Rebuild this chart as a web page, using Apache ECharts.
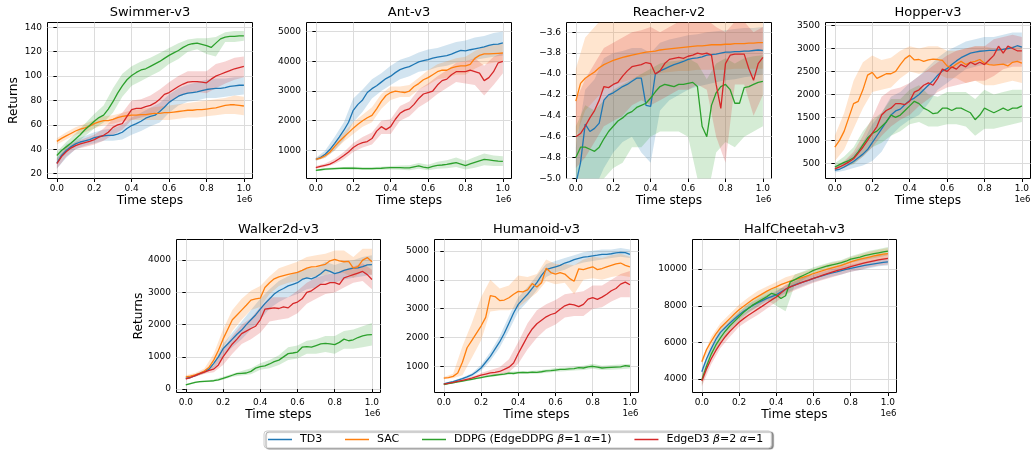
<!DOCTYPE html>
<html><head><meta charset="utf-8">
<script src="https://cdn.jsdelivr.net/npm/echarts@6/dist/echarts.min.js"></script>
<style>html,body{margin:0;padding:0;background:#fff}#c{width:1031px;height:450px}</style>
</head><body><div id="c"></div>
<script>
// ---------- sampling grids (time steps, x1e6) ----------
const T41 = [0,0.025,0.05,0.075,0.1,0.125,0.15,0.175,0.2,0.225,0.25,0.275,0.3,0.325,0.35,0.375,0.4,0.425,0.45,0.475,0.5,0.525,0.55,0.575,0.6,0.625,0.65,0.675,0.7,0.725,0.75,0.775,0.8,0.825,0.85,0.875,0.9,0.925,0.95,0.975,1.0];
const T21 = [0,0.05,0.1,0.15,0.2,0.25,0.3,0.35,0.4,0.45,0.5,0.55,0.6,0.65,0.7,0.75,0.8,0.85,0.9,0.95,1.0];
const xTicks = [0,0.2,0.4,0.6,0.8,1.0];
const algos = ['TD3','SAC','DDPG (EdgeDDPG β=1 α=1)','EdgeD3 β=2 α=1'];
const colors = ['#1f77b4','#ff7f0e','#2ca02c','#d62728'];
const bandColors = ['rgba(31,119,180,0.2)','rgba(255,127,14,0.2)','rgba(44,160,44,0.2)','rgba(214,39,40,0.2)'];
const titles = ['Swimmer-v3','Ant-v3','Reacher-v2','Hopper-v3','Walker2d-v3','Humanoid-v3','HalfCheetah-v3'];

// ---------- Swimmer ----------
const swTicks = [20,40,60,80,100,120,140];
const sw_td3 = [28.7,35,39,42,44.5,46,47,48,49.5,50.5,51,51.5,51.5,52.5,54,57,59.5,61,63,65.5,67,68,71,74.5,78.5,81,83.5,85,86,86.5,87,88,89,89.5,90,90,90.5,91.5,92,92.5,92.5];
const sw_sac = [46.5,49,51,53,55,56.5,57.5,59,61,62.5,63.5,63.5,64.5,66,67,67.5,68,68,68.5,68.5,69,69.5,69.5,70,70,70.5,71,71.5,72,72,72.5,72.5,73,73.5,74,75,76,76.5,76.5,76,75.5];
const sw_ddpg = [35,39,42,45,48.5,52,56,59.5,63,66,68,73,79,86,92,97,100.5,103,105,106,108,110,112,114.5,117,119,121,123.5,125.5,126.5,127,126,125,123.5,127,130.5,132,132.5,132.5,133,133];
const sw_edge = [28.2,34,38,41,43,44.5,45.5,46.5,48,50,51.5,54,58,60,61,67,72.5,73.5,73.5,75,76,78,81,85,86.5,89,91.5,93.5,95,95.5,95.5,95,94.5,97.5,100,101.5,103,104.5,106,107,108];
const sw_td3_lo = [24,33,40,43,45,47,47,48,52,55,59,62,70,76,79,80,82,82,83,84,85];
const sw_td3_hi = [33,44,48,51,54,56,57,60,66,70,74,78,85,90,93,95,97,98,98,99,99];
const sw_sac_lo = [44,48,52,54,57,60,61,63,64,64,64,64,64,65,66,66,67,68,69,69,68];
const sw_sac_hi = [49,54,58,61,64,67,68,70,72,73,74,75,76,77,78,79,80,81,82,84,83];
const sw_ddpg_lo = [31,38,44,51,57,62,70,83,92,96,100,104,110,114,120,122,118,116,128,128,129];
const sw_ddpg_hi = [38,46,53,61,69,76,90,102,108,112,115,119,123,127,130,131,131,132,136,137,137];
const sw_edge_lo = [24,34,40,42,44,47,52,56,64,66,68,72,78,83,86,87,86,90,94,97,99];
const sw_edge_hi = [32,42,46,49,52,57,65,70,80,81,84,89,95,100,104,104,104,110,112,115,116];

// ---------- Ant ----------
const antTicks = [1000,2000,3000,4000,5000];
const ant_td3 = [700,760,870,1030,1230,1450,1680,1950,2350,2550,2700,2950,3080,3180,3300,3420,3500,3620,3720,3780,3820,3900,3980,4020,4060,4110,4140,4170,4190,4240,4310,4370,4350,4390,4420,4450,4490,4540,4570,4580,4620];
const ant_sac = [700,740,820,940,1130,1300,1450,1600,1750,1880,2000,2100,2180,2400,2650,2850,2950,3000,2970,2950,3000,3150,3250,3380,3450,3550,3650,3700,3700,3780,3820,3850,3850,3900,4100,4200,4250,4250,4260,4270,4280];
const ant_ddpg = [330,350,370,380,390,395,400,400,400,395,390,385,390,395,400,410,420,420,420,415,410,450,480,440,410,460,500,510,530,560,590,540,490,550,600,650,700,680,660,640,630];
const ant_edge = [420,460,500,540,620,720,830,950,1100,1200,1260,1300,1400,1650,1800,1700,1800,2050,2250,2350,2400,2550,2750,2900,2950,3000,3200,3350,3400,3550,3650,3650,3650,3700,3650,3600,3350,3450,3650,3950,4000];
const ant_td3_lo = [650,750,1000,1350,1950,2300,2750,3000,3200,3400,3500,3650,3700,3800,3850,3950,4000,4050,4100,4150,4200];
const ant_td3_hi = [750,1000,1450,1950,2750,3050,3400,3600,3850,4050,4150,4300,4400,4450,4550,4650,4700,4800,4850,4950,5000];
const ant_sac_lo = [650,750,1000,1300,1550,1800,1950,2400,2700,2800,2800,3050,3200,3400,3450,3550,3550,3750,3900,3950,4000];
const ant_sac_hi = [750,900,1250,1600,1950,2200,2450,2900,3150,3150,3200,3450,3700,3900,4000,4100,4150,4350,4500,4550,4600];
const ant_ddpg_lo = [300,330,350,360,350,340,340,350,360,350,330,380,330,380,400,440,360,420,500,480,480];
const ant_ddpg_hi = [360,410,430,440,450,440,440,450,480,490,500,580,520,620,670,760,650,780,900,830,800];
const ant_edge_lo = [380,440,540,700,950,1100,1200,1550,1550,2000,2150,2450,2650,2900,3100,3300,3250,3200,2850,3200,3600];
const ant_edge_hi = [480,560,720,950,1250,1450,1600,2000,2050,2500,2650,3050,3250,3500,3700,3950,4000,4100,3850,4150,4300];

// ---------- Reacher ----------
const reTicks = [-5.0,-4.8,-4.6,-4.4,-4.2,-4.0,-3.8,-3.6];
const re_td3 = [-5.05,-4.85,-4.48,-4.55,-4.52,-4.47,-4.25,-4.2,-4.18,-4.15,-4.12,-4.1,-4.07,-4.04,-4.04,-4.3,-4.31,-4.0,-3.97,-3.95,-3.93,-3.91,-3.895,-3.88,-3.86,-3.85,-3.845,-3.835,-3.82,-3.815,-3.81,-3.80,-3.79,-3.79,-3.785,-3.785,-3.78,-3.78,-3.775,-3.77,-3.775];
const re_sac = [-4.26,-4.09,-4.04,-4.01,-3.98,-3.94,-3.91,-3.89,-3.87,-3.855,-3.84,-3.83,-3.82,-3.81,-3.80,-3.79,-3.785,-3.78,-3.77,-3.765,-3.76,-3.755,-3.75,-3.745,-3.74,-3.735,-3.73,-3.73,-3.725,-3.72,-3.72,-3.72,-3.715,-3.715,-3.71,-3.71,-3.71,-3.705,-3.705,-3.70,-3.70];
const re_ddpg = [-4.8,-4.7,-4.7,-4.72,-4.74,-4.7,-4.62,-4.55,-4.5,-4.45,-4.42,-4.38,-4.36,-4.32,-4.3,-4.28,-4.23,-4.17,-4.12,-4.1,-4.11,-4.12,-4.1,-4.1,-4.09,-4.08,-4.12,-4.5,-4.6,-4.3,-4.18,-4.12,-4.1,-4.15,-4.28,-4.28,-4.13,-4.12,-4.1,-4.08,-4.07];
const re_edge = [-4.6,-4.57,-4.5,-4.42,-4.35,-4.25,-4.12,-4.13,-4.1,-4.08,-4.02,-3.97,-3.93,-3.92,-3.91,-3.89,-3.9,-4.0,-3.97,-3.9,-3.86,-3.85,-3.84,-3.85,-3.83,-3.82,-3.8,-3.81,-3.8,-3.82,-4.1,-4.33,-3.9,-3.82,-3.81,-3.81,-3.81,-3.95,-4.06,-3.9,-3.84];
const re_td3_lo = [-5.3,-5.2,-5.1,-4.9,-4.75,-4.65,-4.6,-4.75,-4.85,-4.35,-4.25,-4.2,-4.15,-4.12,-4.1,-4.08,-4.06,-4.05,-4.03,-4.02,-4.0];
const re_td3_hi = [-4.7,-4.15,-4.05,-3.85,-3.8,-3.78,-3.75,-3.75,-3.8,-3.7,-3.67,-3.65,-3.63,-3.62,-3.6,-3.59,-3.58,-3.57,-3.56,-3.56,-3.55];
const re_sac_lo = [-4.6,-4.35,-4.25,-4.15,-4.1,-4.08,-4.05,-4.03,-4.0,-3.99,-3.98,-3.97,-3.97,-3.96,-3.96,-3.96,-3.96,-3.95,-3.95,-3.95,-3.95];
const re_sac_hi = [-3.95,-3.65,-3.55,-3.45,-3.45,-3.45,-3.45,-3.45,-3.45,-3.45,-3.45,-3.45,-3.45,-3.45,-3.45,-3.45,-3.45,-3.45,-3.45,-3.45,-3.45];
const re_ddpg_lo = [-5.1,-5.1,-5.1,-5.0,-4.9,-4.85,-4.7,-4.7,-4.6,-4.55,-4.55,-4.55,-4.6,-5.0,-5.2,-4.75,-4.65,-4.7,-4.6,-4.55,-4.5];
const re_ddpg_hi = [-4.5,-4.3,-4.35,-4.25,-4.15,-4.1,-4.05,-4.0,-3.95,-3.9,-3.88,-3.87,-3.85,-3.9,-4.05,-3.9,-3.85,-3.9,-3.85,-3.83,-3.82];
const re_edge_lo = [-4.9,-4.8,-4.65,-4.5,-4.45,-4.4,-4.3,-4.25,-4.3,-4.25,-4.2,-4.15,-4.15,-4.1,-4.15,-4.6,-4.85,-4.1,-4.1,-4.4,-4.2];
const re_edge_hi = [-4.25,-4.05,-3.9,-3.75,-3.7,-3.65,-3.6,-3.58,-3.55,-3.6,-3.55,-3.5,-3.5,-3.48,-3.48,-3.55,-3.6,-3.5,-3.5,-3.6,-3.55];

// ---------- Hopper ----------
const hoTicks = [500,1000,1500,2000,2500,3000,3500];
const ho_td3 = [350,370,420,480,540,620,700,800,950,1100,1250,1400,1550,1640,1680,1780,1870,1920,2000,2100,2200,2300,2420,2510,2560,2650,2730,2800,2850,2900,2920,2940,2950,2960,2960,2970,2980,3000,3020,3060,3030];
const ho_sac = [850,1000,1200,1500,1800,1850,2100,2420,2480,2350,2400,2450,2450,2500,2650,2780,2850,2750,2760,2720,2750,2770,2760,2740,2620,2580,2660,2720,2650,2700,2720,2760,2680,2650,2640,2650,2660,2620,2700,2720,2680];
const ho_ddpg = [420,470,520,560,620,750,900,1050,1150,1200,1300,1400,1550,1500,1550,1650,1750,1850,1800,1700,1650,1580,1600,1700,1700,1650,1700,1700,1650,1600,1450,1550,1700,1650,1600,1650,1700,1650,1700,1700,1750];
const ho_edge = [380,420,470,530,600,720,850,1000,1150,1300,1550,1650,1700,1800,1800,1780,1850,2050,2100,2200,2250,2200,2350,2550,2500,2600,2550,2650,2600,2700,2650,2700,2650,2750,2850,3050,2900,3050,3000,2950,2950];
const ho_td3_lo = [300,340,400,450,550,750,1100,1300,1450,1550,1800,2100,2250,2400,2550,2600,2650,2650,2650,2700,2750];
const ho_td3_hi = [420,520,700,950,1350,1600,1950,2050,2250,2400,2600,2800,2950,3050,3150,3200,3250,3250,3300,3350,3350];
const ho_sac_lo = [550,800,1250,1700,2050,2100,2150,2350,2500,2450,2500,2450,2350,2350,2250,2300,2200,2200,2250,2300,2250];
const ho_sac_hi = [1100,1600,2300,2700,2850,2750,2800,2950,3050,3000,3050,3050,2950,2950,3000,3050,3050,3000,3000,3050,3050];
const ho_ddpg_lo = [350,420,480,650,850,950,1100,1200,1350,1400,1300,1300,1350,1350,1300,1100,1250,1250,1300,1350,1400];
const ho_ddpg_hi = [500,650,850,1200,1450,1600,1900,1900,2100,2200,2000,1950,2050,2050,2050,1900,2100,2000,2050,2100,2100];
const ho_edge_lo = [330,400,500,650,850,1100,1300,1450,1550,1750,1900,2050,2150,2200,2250,2300,2300,2400,2550,2600,2600];
const ho_edge_hi = [430,550,750,1100,1500,1950,2100,2150,2250,2400,2550,2700,2850,2950,3000,3050,3050,3200,3250,3300,3250];

// ---------- Walker2d ----------
const waTicks = [0,1000,2000,3000,4000];
const wa_td3 = [330,360,420,480,540,620,800,1000,1250,1400,1550,1700,1830,2000,2150,2300,2480,2650,2800,2950,3050,3120,3200,3250,3300,3400,3450,3420,3480,3580,3700,3650,3580,3620,3680,3720,3750,3760,3800,3850,3860];
const wa_sac = [380,400,440,490,560,680,900,1200,1550,1850,2150,2300,2450,2600,2760,2800,2820,3150,3300,3420,3480,3520,3560,3590,3620,3680,3750,3790,3800,3840,3870,3980,4020,3980,3950,3960,3750,3800,4000,4080,3950];
const wa_ddpg = [130,170,210,230,240,250,260,290,330,380,430,480,490,500,550,650,700,720,780,850,900,1000,1100,1120,1150,1300,1320,1300,1350,1400,1420,1400,1380,1450,1550,1500,1530,1600,1650,1680,1690];
const wa_edge = [320,360,420,480,530,580,620,750,1000,1200,1400,1550,1720,1800,1880,1950,2150,2480,2500,2520,2500,2550,2520,2650,2700,2800,3000,3050,3150,3250,3250,3300,3300,3250,3450,3500,3550,3600,3650,3550,3400];
const wa_td3_lo = [300,380,490,620,1000,1300,1550,1850,2150,2500,2700,2850,2950,3100,3150,3350,3300,3400,3450,3500,3550];
const wa_td3_hi = [360,460,590,800,1400,1750,2100,2450,2800,3100,3350,3500,3650,3750,3750,3950,3850,3950,4000,4100,4150];
const wa_sac_lo = [330,380,480,700,1250,1800,2150,2450,2550,2950,3200,3300,3350,3450,3500,3550,3650,3600,3450,3650,3550];
const wa_sac_hi = [430,500,640,1100,1850,2450,2800,3050,3200,3500,3750,3850,3950,4100,4150,4200,4300,4300,4100,4350,4350];
const wa_ddpg_lo = [110,180,210,230,290,380,420,460,600,650,750,900,950,1100,1100,1150,1100,1250,1250,1300,1350];
const wa_ddpg_hi = [160,240,270,300,380,480,560,650,800,900,1050,1300,1350,1500,1550,1650,1650,1800,1850,1950,2050];
const wa_edge_lo = [280,380,480,520,750,1100,1400,1550,1750,2100,2150,2200,2350,2650,2800,2950,3000,3150,3300,3350,3100];
const wa_edge_hi = [360,460,580,720,1250,1650,2000,2200,2550,2850,2850,2850,3050,3300,3450,3550,3600,3700,3800,3900,3700];

// ---------- Humanoid ----------
const huTicks = [1000,2000,3000,4000,5000];
const hu_td3 = [400,440,480,530,580,640,710,820,950,1150,1350,1600,1850,2150,2500,2850,3150,3330,3500,3700,3900,4150,4350,4400,4450,4500,4580,4630,4700,4740,4780,4800,4830,4850,4880,4880,4900,4930,4950,4940,4880];
const hu_sac = [600,620,660,780,1150,1650,1900,2150,2400,2700,3450,3420,3280,3300,3380,3500,3600,3580,3650,3870,3750,3900,4400,4250,4200,4250,4200,4050,3950,4380,4350,4400,4450,4350,4390,4450,4500,4550,4580,4500,4450];
const hu_ddpg = [380,410,440,470,500,530,560,590,620,650,680,700,720,740,770,760,790,800,790,810,800,820,850,860,880,900,900,920,930,960,950,990,1010,980,950,960,970,980,990,1030,1010];
const hu_edge = [390,420,450,490,520,560,600,650,700,740,780,800,830,900,980,1120,1450,1750,2050,2300,2480,2600,2720,2800,2850,2980,3100,3160,3130,3070,3150,3330,3380,3320,3400,3500,3620,3700,3850,3920,3830];
const hu_td3_lo = [380,450,540,650,850,1200,1650,2250,2900,3250,3650,4100,4250,4350,4500,4600,4650,4700,4750,4800,4750];
const hu_td3_hi = [420,510,620,770,1050,1500,2050,2750,3400,3750,4150,4550,4650,4750,4850,4950,5000,5050,5050,5100,5050];
const hu_sac_lo = [580,600,700,1300,1900,2900,2950,2950,3050,3300,3550,3950,3850,3900,3500,4000,4050,4000,4100,4150,4100];
const hu_sac_hi = [640,750,1700,2500,3400,4000,3700,3800,4150,4100,4200,4700,4550,4550,4500,4700,4800,4750,4850,4900,4800];
const hu_ddpg_lo = [360,420,470,530,590,640,680,720,740,740,750,790,820,840,860,880,920,880,890,910,930];
const hu_ddpg_hi = [400,460,530,580,650,720,760,820,840,850,860,900,950,970,1000,1030,1100,1030,1050,1070,1090];
const hu_edge_lo = [370,430,490,560,640,700,720,800,1100,1600,2000,2300,2450,2700,2750,2750,3000,3050,3250,3400,3400];
const hu_edge_hi = [410,480,560,650,780,880,980,1250,1850,2500,2950,3150,3300,3500,3550,3600,3800,3800,4000,4200,4300];

// ---------- HalfCheetah ----------
const hcTicks = [4000,6000,8000,10000];
const hc_td3 = [4400,5100,5650,6150,6550,6800,7050,7280,7500,7700,7870,8020,8150,8280,8400,8500,8600,8750,8900,9030,9140,9230,9320,9400,9490,9570,9650,9720,9790,9850,9920,9980,10040,10100,10150,10200,10250,10290,10330,10370,10400];
const hc_sac = [4950,5600,6050,6450,6800,7050,7300,7550,7780,7980,8170,8350,8500,8650,8800,8930,9030,9150,9250,9340,9420,9500,9580,9660,9760,9840,9920,10000,10070,10140,10210,10300,10400,10470,10540,10600,10660,10720,10770,10820,10850];
const hc_ddpg = [3950,4700,5350,5850,6250,6600,6900,7150,7400,7650,7850,8050,8200,8350,8500,8680,8600,8400,8550,9300,9430,9560,9680,9800,9930,10020,10100,10170,10230,10290,10350,10430,10540,10600,10660,10730,10790,10840,10890,10940,10980];
const hc_edge = [3900,4550,5100,5550,5950,6300,6600,6850,7100,7300,7480,7650,7820,7980,8150,8320,8480,8700,8900,9030,9120,9220,9320,9400,9490,9580,9670,9760,9840,9920,9990,10060,10130,10200,10270,10340,10400,10450,10500,10550,10580];
const hc_td3_lo = [4200,5450,6300,6850,7300,7650,7950,8200,8400,8700,8900,9100,9300,9450,9600,9700,9850,9950,10050,10150,10200];
const hc_td3_hi = [4600,5850,6800,7250,7700,8100,8350,8600,8800,9100,9350,9550,9700,9850,10000,10150,10250,10350,10450,10550,10600];
const hc_sac_lo = [4800,5800,6550,7050,7500,7900,8200,8550,8750,8950,9150,9300,9500,9650,9800,9950,10100,10250,10350,10450,10550];
const hc_sac_hi = [5100,6300,7050,7550,8050,8450,8800,9050,9300,9550,9700,9850,10000,10200,10350,10450,10650,10800,10950,11050,11150];
const hc_ddpg_lo = [3700,5100,6000,6650,7150,7600,7950,8300,8000,7700,9150,9450,9750,9950,10050,10200,10350,10450,10550,10650,10750];
const hc_ddpg_hi = [4200,5600,6500,7150,7650,8100,8450,8800,9000,8950,9700,9900,10100,10250,10400,10500,10700,10850,11000,11100,11200];
const hc_edge_lo = [3600,4800,5700,6300,6850,7200,7500,7850,8200,8600,8850,9050,9250,9400,9550,9700,9850,9950,10100,10200,10250];
const hc_edge_hi = [4200,5400,6200,6850,7350,7750,8100,8450,8750,9150,9350,9550,9700,9900,10100,10250,10400,10550,10650,10750,10850];

// ---------- assemble ----------
const envs = [
  {ticks:swTicks, ymin:16.1, ymax:143.9, mean:[sw_td3,sw_sac,sw_ddpg,sw_edge], lo:[sw_td3_lo,sw_sac_lo,sw_ddpg_lo,sw_edge_lo], hi:[sw_td3_hi,sw_sac_hi,sw_ddpg_hi,sw_edge_hi], ylabel:true, ygap:34},
  {ticks:antTicks, ymin:55, ymax:5307, mean:[ant_td3,ant_sac,ant_ddpg,ant_edge], lo:[ant_td3_lo,ant_sac_lo,ant_ddpg_lo,ant_edge_lo], hi:[ant_td3_hi,ant_sac_hi,ant_ddpg_hi,ant_edge_hi]},
  {ticks:reTicks, ymin:-5.0, ymax:-3.507, mean:[re_td3,re_sac,re_ddpg,re_edge], lo:[re_td3_lo,re_sac_lo,re_ddpg_lo,re_edge_lo], hi:[re_td3_hi,re_sac_hi,re_ddpg_hi,re_edge_hi], dec:1},
  {ticks:hoTicks, ymin:169, ymax:3566, mean:[ho_td3,ho_sac,ho_ddpg,ho_edge], lo:[ho_td3_lo,ho_sac_lo,ho_ddpg_lo,ho_edge_lo], hi:[ho_td3_hi,ho_sac_hi,ho_ddpg_hi,ho_edge_hi]},
  {ticks:waTicks, ymin:-105, ymax:4640, mean:[wa_td3,wa_sac,wa_ddpg,wa_edge], lo:[wa_td3_lo,wa_sac_lo,wa_ddpg_lo,wa_edge_lo], hi:[wa_td3_hi,wa_sac_hi,wa_ddpg_hi,wa_edge_hi], ylabel:true, ygap:38},
  {ticks:huTicks, ymin:103, ymax:5393, mean:[hu_td3,hu_sac,hu_ddpg,hu_edge], lo:[hu_td3_lo,hu_sac_lo,hu_ddpg_lo,hu_edge_lo], hi:[hu_td3_hi,hu_sac_hi,hu_ddpg_hi,hu_edge_hi]},
  {ticks:hcTicks, ymin:3271, ymax:11615, mean:[hc_td3,hc_sac,hc_ddpg,hc_edge], lo:[hc_td3_lo,hc_sac_lo,hc_ddpg_lo,hc_edge_lo], hi:[hc_td3_hi,hc_sac_hi,hc_ddpg_hi,hc_edge_hi]}
];

const boxes = [
  {left:47.5, top:22.5, width:205, height:156},
  {left:306.5, top:22.5, width:205, height:156},
  {left:566.5, top:22.5, width:205, height:156},
  {left:825.5, top:22.5, width:205, height:156},
  {left:176.5, top:239.5, width:204, height:153},
  {left:434.5, top:239.5, width:204, height:153},
  {left:692.5, top:239.5, width:204, height:153}
];

const FONT = 'DejaVu Sans';
const grid = [], xAxis = [], yAxis = [], series = [], graphic = [];

function bandRenderer(fill) {
  return function (params, api) {
    if (params.dataIndexInside !== 0) return null;
    const n = params.dataInsideLength;
    const up = [], dn = [];
    for (let i = 0; i < n; i++) {
      const x = api.value(0, i);
      up.push(api.coord([x, api.value(2, i)]));
      dn.push(api.coord([x, api.value(1, i)]));
    }
    return {type:'polygon', silent:true, shape:{points: up.concat(dn.reverse())}, style:{fill: fill, stroke:null}};
  };
}

envs.forEach((env, g) => {
  const b = boxes[g];
  grid.push({left:b.left, top:b.top, width:b.width, height:b.height, show:true, borderColor:'#000', borderWidth:1,
             backgroundColor:'transparent', containLabel:false, outerBoundsMode:'none'});
  xAxis.push({
    type:'value', gridIndex:g, min:-0.05, max:1.046,
    name:'Time steps', nameLocation:'middle', nameGap:22.5, nameMoveOverlap:false,
    nameTextStyle:{fontFamily:FONT, fontSize:12.2, color:'#000', verticalAlign:'middle'},
    axisLine:{show:false},
    axisTick:{show:true, inside:false, length:3.5, customValues:xTicks, lineStyle:{color:'#000', width:1}},
    axisLabel:{show:true, customValues:xTicks, margin:5.5, fontFamily:FONT, fontSize:9, color:'#000', formatter:v => v.toFixed(1)},
    splitLine:{show:true, lineStyle:{color:'#dcdcdc', width:1}}
  });
  yAxis.push({
    type:'value', gridIndex:g, min:env.ymin, max:env.ymax,
    name: env.ylabel ? 'Returns' : '', nameLocation:'middle', nameGap: env.ygap || 30, nameRotate:90, nameMoveOverlap:false,
    nameTextStyle:{fontFamily:FONT, fontSize:12.2, color:'#000', verticalAlign:'middle'},
    axisLine:{show:false},
    axisTick:{show:true, inside:false, length:3.5, customValues:env.ticks, lineStyle:{color:'#000', width:1}},
    axisLabel:{show:true, customValues:env.ticks, margin:5.5, fontFamily:FONT, fontSize:9, color:'#000',
      formatter: v => env.dec ? (v < 0 ? '\u2212' : '') + Math.abs(v).toFixed(env.dec) : String(Math.round(v))},
    splitLine:{show:true, lineStyle:{color:'#dcdcdc', width:1}}
  });
  for (let a = 0; a < 4; a++) {
    const lo = env.lo[a], hi = env.hi[a];
    series.push({
      type:'custom', name: algos[a] + ' band', xAxisIndex:g, yAxisIndex:g,
      data: T21.map((t, i) => [t, lo[i], hi[i]]),
      dimensions:['x','lo','hi'], encode:{x:0, y:[1,2]},
      renderItem: bandRenderer(bandColors[a]), clip:true, silent:true, z:1
    });
  }
  for (let a = 0; a < 4; a++) {
    const m = env.mean[a];
    series.push({
      type:'line', name: algos[a], xAxisIndex:g, yAxisIndex:g,
      data: T41.map((t, i) => [t, m[i]]),
      symbol:'none', showSymbol:false, clip:true, silent:true, z:3,
      color: colors[a], itemStyle:{color: colors[a]},
      lineStyle:{width:1.3, color: colors[a]}, emphasis:{disabled:true}
    });
  }
  graphic.push({type:'text', silent:true, x: b.left + b.width / 2, y: b.top - 10,
    style:{text: titles[g], font:'13px "DejaVu Sans"', fill:'#000', align:'center', verticalAlign:'middle', textAlign:'center', textVerticalAlign:'middle'}});
  graphic.push({type:'text', silent:true, x: b.left + b.width, y: b.top + b.height + 21,
    style:{text:'1e6', font:'8.5px "DejaVu Sans"', fill:'#000', align:'right', verticalAlign:'middle', textAlign:'right', textVerticalAlign:'middle'}});
});

const chart = echarts.init(document.getElementById('c'), null, {renderer:'canvas'});
chart.setOption({
  animation:false,
  backgroundColor:'#fff',
  textStyle:{fontFamily:FONT},
  grid, xAxis, yAxis, series, graphic,
  legend:{
    show:true, left:264, top:431, orient:'horizontal', data: algos, selectedMode:false,
    icon:'rect', itemWidth:24, itemHeight:1.5, itemGap:22.8, padding:[3,8,3,4],
    backgroundColor:'#fff', borderColor:'#cccccc', borderWidth:1, borderRadius:3,
    shadowColor:'rgba(0,0,0,0.4)', shadowBlur:1, shadowOffsetX:2, shadowOffsetY:1,
    textStyle:{fontFamily:FONT, fontSize:11, color:'#000', padding:[0,0,0,3],
      rich:{g:{fontFamily:FONT, fontSize:11, fontStyle:'italic', color:'#000'}}},
    formatter: name => name.replace(/([βα])/g, '{g|$1}')
  }
});
</script></body></html>
